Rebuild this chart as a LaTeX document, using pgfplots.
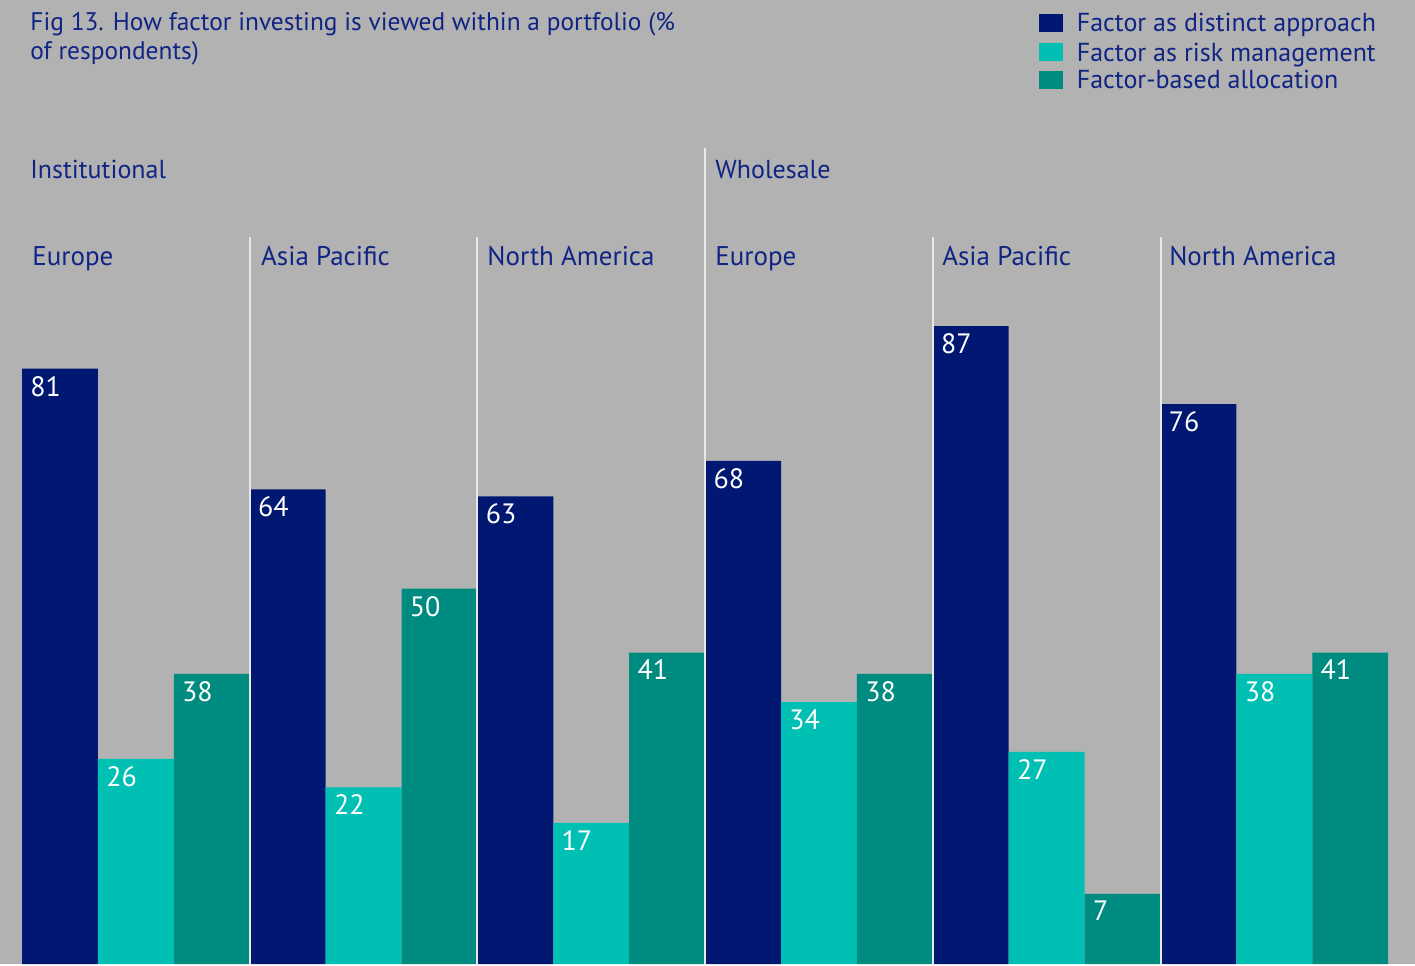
\documentclass[border=0pt]{standalone}
\usepackage{fontspec}
\setmainfont{PT Sans}
\usepackage{pgfplots}
\usepackage{pgfplotstable}
\pgfplotsset{compat=1.18}
\definecolor{bg}{RGB}{178,178,178}
\definecolor{navy}{RGB}{0,24,114}
\definecolor{cyanb}{RGB}{0,192,180}
\definecolor{tealb}{RGB}{0,139,128}
\definecolor{txt}{RGB}{16,36,132}
\definecolor{sep}{RGB}{232,232,232}

\pgfplotstableread{
grp distinct risk alloc
0 81 26 38
1 64 22 50
2 63 17 41
3 68 34 38
4 87 27 7
5 76 38 41
}\data

\begin{document}
\begin{tikzpicture}
\begin{axis}[
  scale only axis, width=707.5pt, height=482pt,
  xmin=-0.2899, xmax=18.353, ymin=0, ymax=135.87,
  axis background/.style={fill=bg},
  axis line style={draw=none}, ticks=none,
  clip=false,
  /pgf/number format/assume math mode=true,
  nodes near coords, point meta=explicit,
  every node near coord/.append style={anchor=north west, inner sep=0pt,
     xshift=-14.98pt, yshift=-3.5pt, text=white, font=\fontsize{14}{16}\selectfont},
]
\addplot[ybar, bar width=1, bar shift=0, fill=navy, draw=none]
  table[x expr=3*\thisrow{grp}+0.5, y expr=\thisrow{distinct}+2.9, meta=distinct]{\data};
\addplot[ybar, bar width=1, bar shift=0, fill=cyanb, draw=none]
  table[x expr=3*\thisrow{grp}+1.5, y expr=\thisrow{risk}+2.9, meta=risk]{\data};
\addplot[ybar, bar width=1, bar shift=0, fill=tealb, draw=none]
  table[x expr=3*\thisrow{grp}+2.5, y expr=\thisrow{alloc}+2.9, meta=alloc]{\data};

% separators
\draw[sep, line width=1pt] (axis cs:3,0) -- (axis cs:3,102.47);
\draw[sep, line width=1pt] (axis cs:6,0) -- (axis cs:6,102.47);
\draw[sep, line width=1pt] (axis cs:9,0) -- (axis cs:9,115.0);
\draw[sep, line width=1pt] (axis cs:12,0) -- (axis cs:12,102.47);
\draw[sep, line width=1pt] (axis cs:15,0) -- (axis cs:15,102.47);

% title
\node[anchor=base west, inner sep=0pt, text=txt, font=\fontsize{12.7}{15}\selectfont] at (axis cs:0.1054,131.64) {Fig 13. How factor investing is viewed within a portfolio (\%};
\node[anchor=base west, inner sep=0pt, text=txt, font=\fontsize{12.7}{15}\selectfont] at (axis cs:0.1054,127.55) {of respondents)};

% legend
\fill[navy]  (axis cs:13.399,133.90) rectangle (axis cs:13.715,131.36);
\fill[cyanb] (axis cs:13.399,129.81) rectangle (axis cs:13.715,127.27);
\fill[tealb] (axis cs:13.399,125.86) rectangle (axis cs:13.715,123.33);
\node[anchor=base west, inner sep=0pt, text=txt, font=\fontsize{13}{15}\selectfont] at (axis cs:13.893,131.36) {Factor as distinct approach};
\node[anchor=base west, inner sep=0pt, text=txt, font=\fontsize{13}{15}\selectfont] at (axis cs:13.893,127.27) {Factor as risk management};
\node[anchor=base west, inner sep=0pt, text=txt, font=\fontsize{13}{15}\selectfont] at (axis cs:13.893,123.33) {Factor-based allocation};

% section labels
\node[anchor=base west, inner sep=0pt, text=txt, font=\fontsize{13}{16}\selectfont] at (axis cs:0.1054,110.74) {Institutional};
\node[anchor=base west, inner sep=0pt, text=txt, font=\fontsize{13}{16}\selectfont] at (axis cs:9.130,110.74) {Wholesale};

% region labels
\node[anchor=base west, inner sep=0pt, text=txt, font=\fontsize{13.5}{16}\selectfont] at (axis cs:0.132,98.38) {Europe};
\node[anchor=base west, inner sep=0pt, text=txt, font=\fontsize{13.5}{16}\selectfont] at (axis cs:3.145,98.38) {Asia Pacific};
\node[anchor=base west, inner sep=0pt, text=txt, font=\fontsize{13.5}{16}\selectfont] at (axis cs:6.126,98.38) {North America};
\node[anchor=base west, inner sep=0pt, text=txt, font=\fontsize{13.5}{16}\selectfont] at (axis cs:9.130,98.38) {Europe};
\node[anchor=base west, inner sep=0pt, text=txt, font=\fontsize{13.5}{16}\selectfont] at (axis cs:12.12,98.38) {Asia Pacific};
\node[anchor=base west, inner sep=0pt, text=txt, font=\fontsize{13.5}{16}\selectfont] at (axis cs:15.11,98.38) {North America};
\end{axis}
\end{tikzpicture}
\end{document}
